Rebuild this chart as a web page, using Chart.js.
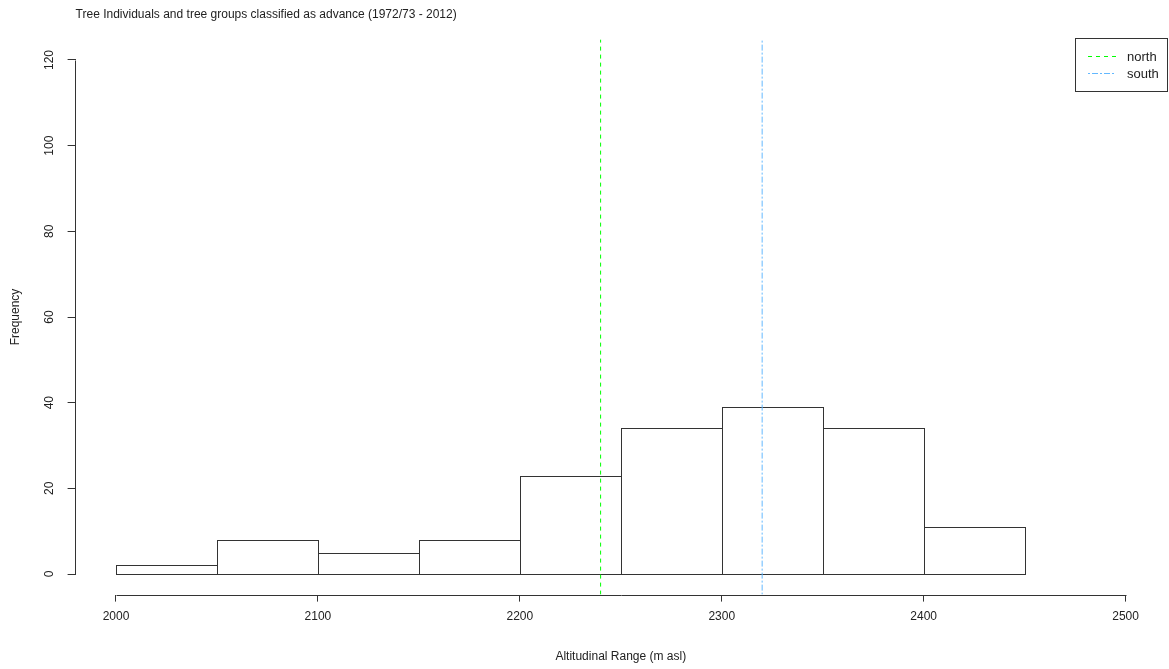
<!DOCTYPE html>
<html>
<head>
<meta charset="utf-8">
<script src="https://cdn.jsdelivr.net/npm/chart.js@4.4.1/dist/chart.umd.min.js"></script>
<style>
  html, body { margin: 0; padding: 0; background: #fff; }
  #wrap { width: 1169px; height: 669px; }
</style>
</head>
<body>
<div id="wrap"><canvas id="histChart" width="1169" height="669"></canvas></div>
<script>
// histogram bins (lower edges, width 50 m) and counts
const binStarts = [2000, 2050, 2100, 2150, 2200, 2250, 2300, 2350, 2400];
const binWidth = 50;
const counts = [2, 8, 5, 8, 23, 34, 39, 34, 11];

// reference lines (mean altitude of each aspect)
const lineLabels = ['north', 'south'];
const lineValues = [2240, 2320];
const lineColors = ['#00ff00', '#63b8ff'];
const lineDashes = [[4, 4], [2, 2, 6, 2]];

const xTicks = [2000, 2100, 2200, 2300, 2400, 2500];
const yTicks = [0, 20, 40, 60, 80, 100, 120];

// R style axis ranges (4% padding on each side)
const xMin = 1980, xMax = 2520;
const yMin = -4.8, yMax = 124.8;

const textColor = '#222';
const axisColor = '#333';
const font = "'Liberation Sans', Arial, sans-serif";

const histData = binStarts.map((b, i) => ({ x: b + binWidth / 2, y: counts[i] }));

const refDatasets = lineValues.map((v, i) => ({
    type: 'line',
    label: lineLabels[i],
    data: [{ x: v, y: yMin }, { x: v, y: yMax }],
    borderColor: lineColors[i],
    borderDash: lineDashes[i],
    borderWidth: 1,
    pointRadius: 0,
    fill: false,
    order: 0
}));

const px = v => Math.round(v) + 0.5;

// crisp 1px outlines for the histogram bars, taken from the bar elements
const barOutline = {
    id: 'barOutline',
    afterDatasetDraw(chart, args) {
        if (args.index !== 0) return;
        const ctx = chart.ctx;
        ctx.save();
        ctx.strokeStyle = axisColor;
        ctx.lineWidth = 1;
        args.meta.data.forEach(el => {
            const l = px(el.x - el.width / 2), r = px(el.x + el.width / 2);
            const t = px(el.y), b = px(el.base);
            ctx.strokeRect(l, t, r - l, b - t);
        });
        ctx.restore();
    }
};

// axis lines from first to last tick, rotated y labels and the legend box
const rAxes = {
    id: 'rAxes',
    afterDraw(chart) {
        const ctx = chart.ctx;
        const xs = chart.scales.x, ys = chart.scales.y;
        const area = chart.chartArea;
        ctx.save();
        ctx.strokeStyle = axisColor;
        ctx.lineWidth = 1;
        ctx.beginPath();
        ctx.moveTo(px(xs.getPixelForValue(xTicks[0])), px(area.bottom));
        ctx.lineTo(px(xs.getPixelForValue(xTicks[xTicks.length - 1])), px(area.bottom));
        ctx.moveTo(Math.round(area.left) - 0.5, px(ys.getPixelForValue(yTicks[0])));
        ctx.lineTo(Math.round(area.left) - 0.5, px(ys.getPixelForValue(yTicks[yTicks.length - 1])));
        ctx.stroke();

        // y tick labels, reading upwards as in R
        ctx.fillStyle = textColor;
        ctx.font = '12px ' + font;
        ctx.textAlign = 'center';
        ctx.textBaseline = 'middle';
        yTicks.forEach(v => {
            ctx.save();
            ctx.translate(50, ys.getPixelForValue(v));
            ctx.rotate(-Math.PI / 2);
            ctx.fillText(String(v), 0, 0);
            ctx.restore();
        });

        // legend
        const bx = 1075.5, by = 38.5, bw = 92, bh = 53;
        ctx.strokeStyle = axisColor;
        ctx.strokeRect(bx, by, bw, bh);
        ctx.textAlign = 'left';
        ctx.font = '13px ' + font;
        lineLabels.forEach((lab, i) => {
            const y = 56 + i * 17;
            ctx.strokeStyle = lineColors[i];
            ctx.setLineDash(lineDashes[i]);
            ctx.beginPath();
            ctx.moveTo(1088, y + 0.5);
            ctx.lineTo(1116, y + 0.5);
            ctx.stroke();
            ctx.setLineDash([]);
            ctx.fillStyle = textColor;
            ctx.fillText(lab, 1127, y + 1);
        });
        ctx.restore();
    }
};

const ctx = document.getElementById('histChart').getContext('2d');
new Chart(ctx, {
    data: {
        datasets: [
            {
                type: 'bar',
                label: 'Frequency',
                data: histData,
                backgroundColor: 'rgba(255,255,255,0)',
                borderWidth: 0,
                barPercentage: 1,
                categoryPercentage: 1,
                order: 1
            },
            ...refDatasets
        ]
    },
    options: {
        responsive: false,
        animation: false,
        layout: { padding: { left: 0, right: 3, top: 0, bottom: 0 } },
        plugins: {
            legend: { display: false },
            tooltip: { enabled: false },
            title: {
                display: true,
                text: 'Tree Individuals and tree groups classified as advance (1972/73 - 2012)',
                align: 'start',
                fullSize: false,
                color: textColor,
                font: { family: font, size: 12, weight: 'normal' },
                padding: { top: 7, bottom: 18 }
            }
        },
        scales: {
            x: {
                type: 'linear',
                min: xMin,
                max: xMax,
                offset: false,
                afterBuildTicks: s => { s.ticks = xTicks.map(v => ({ value: v })); },
                afterFit: s => { s.height = 74.4; },
                border: { display: false },
                grid: { offset: false, drawOnChartArea: false, drawTicks: true, tickLength: 7, color: axisColor },
                ticks: { color: textColor, font: { family: font, size: 12 }, padding: 8, maxRotation: 0, callback: v => String(v) },
                title: {
                    display: true,
                    text: 'Altitudinal Range (m asl)',
                    color: textColor,
                    font: { family: font, size: 12 },
                    padding: { top: 0, bottom: 5 }
                }
            },
            y: {
                type: 'linear',
                min: yMin,
                max: yMax,
                afterBuildTicks: s => { s.ticks = yTicks.map(v => ({ value: v })); },
                afterFit: s => { s.width = 75.6; },
                border: { display: false },
                grid: { drawOnChartArea: false, drawTicks: true, tickLength: 8, color: axisColor },
                ticks: { display: false },
                title: {
                    display: true,
                    text: 'Frequency',
                    color: textColor,
                    font: { family: font, size: 12 },
                    padding: { top: 8, bottom: 0 }
                }
            }
        }
    },
    plugins: [barOutline, rAxes]
});
</script>
</body>
</html>
